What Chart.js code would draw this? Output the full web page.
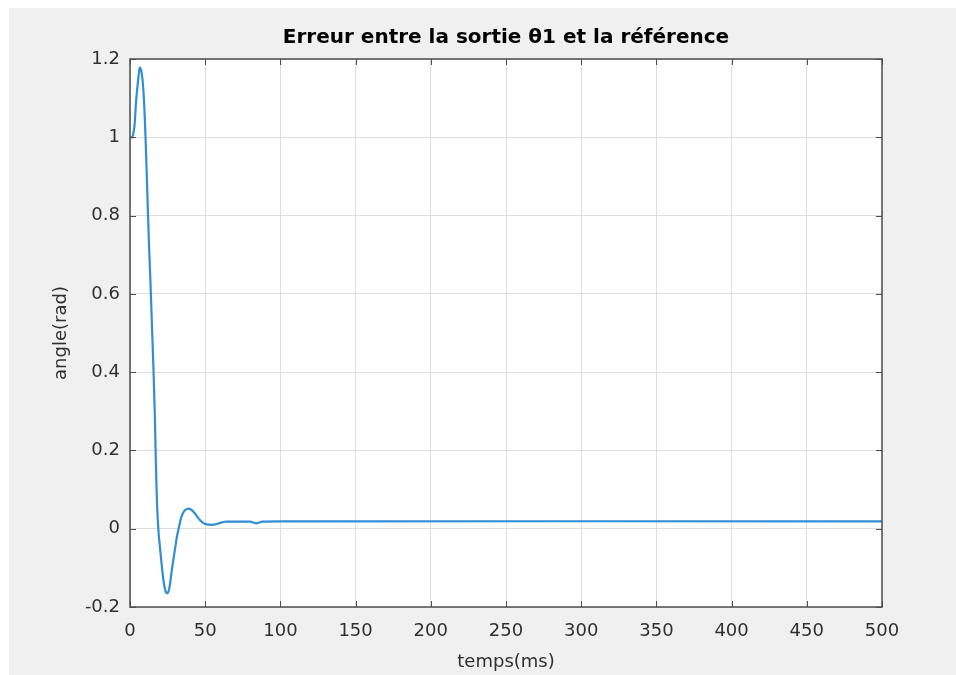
<!DOCTYPE html>
<html>
<head>
<meta charset="utf-8">
<script src="https://cdn.jsdelivr.net/npm/chart.js@4"></script>
<style>
  html, body { margin: 0; padding: 0; background: #ffffff; }
  #fond { position: absolute; left: 9px; top: 8px; width: 947px; height: 667px; background: #f0f0f0; }
  #wrap { position: absolute; left: 0; top: 0; width: 956px; height: 675px; }
</style>
</head>
<body>
<div id="fond"></div>
<div id="wrap"><canvas id="graphe" width="956" height="675"></canvas></div>
<script>
// temps en ms et erreur en rad
const tempsMs = [0, 1.5, 3, 4, 5.5, 6.5, 7.5, 8.5, 9.5, 10.5, 11.5, 12.5, 13.5, 14.5, 15.5, 16.5, 17.2, 18, 19, 20,
  21, 22, 23, 24, 25, 26, 27, 28, 29, 30, 31, 32, 33, 34, 35, 36.5, 38.5, 40.5, 42.5, 44.5,
  46.5, 48.5, 51, 54, 57, 60, 64, 70, 80, 84, 88, 100, 500];
const erreurRad = [1.0, 1.0, 1.03, 1.09, 1.15, 1.178, 1.17, 1.14, 1.08, 0.98, 0.86, 0.74, 0.64, 0.53, 0.42, 0.29, 0.17, 0.06, -0.01, -0.05,
  -0.09, -0.125, -0.15, -0.163, -0.165, -0.155, -0.13, -0.10, -0.075, -0.05, -0.025, -0.005, 0.012, 0.028, 0.038, 0.047, 0.051, 0.049, 0.042, 0.032,
  0.022, 0.015, 0.011, 0.010, 0.011, 0.015, 0.018, 0.018, 0.018, 0.014, 0.018, 0.019, 0.019];
const xTicks = [0, 50, 100, 150, 200, 250, 300, 350, 400, 450, 500];
const yTicks = [-0.2, 0, 0.2, 0.4, 0.6, 0.8, 1, 1.2];
const titre = 'Erreur entre la sortie θ1 et la référence';

const couleurTexte = '#303030';
const police = '"DejaVu Sans", sans-serif';

// fond blanc, cadre, graduations vers l'intérieur et titre centré sur la zone de tracé
const cadrePlugin = {
  id: 'cadre',
  beforeDraw(chart) {
    const a = chart.chartArea;
    const ctx = chart.ctx;
    ctx.save();
    ctx.fillStyle = '#ffffff';
    ctx.fillRect(a.left, a.top, a.right - a.left, a.bottom - a.top);
    ctx.restore();
  },
  afterDatasetsDraw(chart) {
    const a = chart.chartArea;
    const ctx = chart.ctx;
    const sx = chart.scales.x, sy = chart.scales.y;
    ctx.save();
    ctx.strokeStyle = '#4d4d4d';
    ctx.lineWidth = 1.5;
    ctx.strokeRect(a.left, a.top, a.right - a.left, a.bottom - a.top);
    ctx.lineWidth = 1;
    ctx.beginPath();
    xTicks.forEach(v => {
      const px = Math.round(sx.getPixelForValue(v)) + 0.5;
      ctx.moveTo(px, a.bottom); ctx.lineTo(px, a.bottom - 6);
      ctx.moveTo(px, a.top); ctx.lineTo(px, a.top + 6);
    });
    yTicks.forEach(v => {
      const py = Math.round(sy.getPixelForValue(v)) + 0.5;
      ctx.moveTo(a.left, py); ctx.lineTo(a.left + 6, py);
      ctx.moveTo(a.right, py); ctx.lineTo(a.right - 6, py);
    });
    ctx.stroke();

    ctx.fillStyle = '#000000';
    ctx.font = 'bold 20px ' + police;
    ctx.textAlign = 'center';
    ctx.textBaseline = 'middle';
    ctx.fillText(titre, (a.left + a.right) / 2, 38);
    ctx.restore();
  }
};

new Chart(document.getElementById('graphe'), {
  type: 'line',
  data: {
    datasets: [{
      data: tempsMs.map((t, i) => ({ x: t, y: erreurRad[i] })),
      borderColor: '#318dd6',
      borderWidth: 2.2,
      pointRadius: 0,
      tension: 0.25,
      fill: false
    }]
  },
  options: {
    responsive: false,
    animation: false,
    layout: { padding: { left: 0, right: 74, top: 59, bottom: 0 } },
    plugins: {
      legend: { display: false },
      tooltip: { enabled: false },
      title: { display: false }
    },
    scales: {
      x: {
        type: 'linear',
        min: 0,
        max: 500,
        afterBuildTicks(scale) { scale.ticks = xTicks.map(v => ({ value: v })); },
        afterFit(scale) { scale.height = 68; },
        grid: { color: '#dedede', drawTicks: false },
        border: { display: false },
        ticks: { color: couleurTexte, font: { family: police, size: 18 }, padding: 14, maxRotation: 0 },
        title: {
          display: true,
          text: 'temps(ms)',
          color: couleurTexte,
          font: { family: police, size: 18 },
          padding: { top: 0, bottom: 2 }
        }
      },
      y: {
        min: -0.2,
        max: 1.2,
        afterBuildTicks(scale) { scale.ticks = yTicks.map(v => ({ value: v })); },
        afterFit(scale) { scale.width = 130; },
        grid: { color: '#dedede', drawTicks: false },
        border: { display: false },
        ticks: {
          color: couleurTexte,
          font: { family: police, size: 18 },
          padding: 10,
          callback: v => String(Math.round(v * 10) / 10)
        },
        title: {
          display: true,
          text: 'angle(rad)',
          color: couleurTexte,
          font: { family: police, size: 18 },
          padding: { top: 51, bottom: 0 }
        }
      }
    }
  },
  plugins: [cadrePlugin]
});
</script>
</body>
</html>
